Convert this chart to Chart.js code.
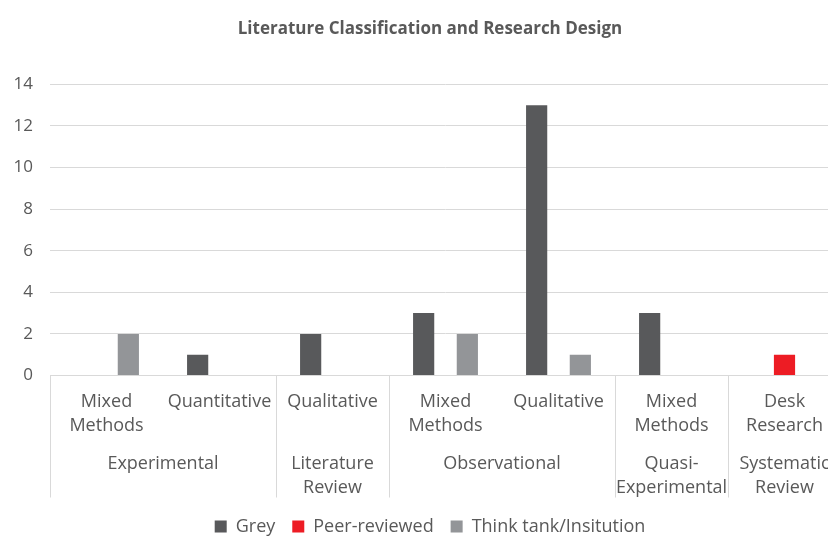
<!DOCTYPE html>
<html><head><meta charset="utf-8">
<script src="https://cdn.jsdelivr.net/npm/chart.js@4/dist/chart.umd.min.js"></script>
<style>
html,body{margin:0;padding:0;overflow:hidden;background:#fff;width:828px;height:537px}
#wrap{position:absolute;left:0;top:0;width:860px;height:537px}
</style>
</head><body><div id="wrap"><canvas id="c" width="860" height="537"></canvas></div>
<script>
const chartTitle = "Literature Classification and Research Design";
const subcategories = [["Mixed","Methods"],"Quantitative","Qualitative",["Mixed","Methods"],"Qualitative",["Mixed","Methods"],["Desk","Research"]];
const groupLabels = [["Experimental"],["Literature","Review"],["Observational"],["Quasi-","Experimental"],["Systematic","Review"]];
const groupSizes = [2,1,2,1,1];
const seriesNames = ["Grey","Peer-reviewed","Think tank/Insitution"];
const greyValues  = [0,1,2,3,13,3,0];
const peerValues  = [0,0,0,0,0,0,1];
const thinkValues = [2,0,0,2,1,0,0];
const yTicks = [0,2,4,6,8,10,12,14];

const TXT = '#595959';
const GRID = '#d9d9d9';
const FONT = "'Open Sans', sans-serif";

const groupPlugin = {
  id: 'groups',
  afterDraw(chart) {
    const x = chart.scales.x;
    const ctx = chart.ctx;
    const top = chart.chartArea.bottom;
    const half = (x.getPixelForValue(1) - x.getPixelForValue(0)) / 2;
    ctx.save();
    ctx.strokeStyle = GRID;
    ctx.lineWidth = 1;
    ctx.fillStyle = TXT;
    ctx.font = "18px " + FONT;
    ctx.textAlign = 'center';
    ctx.textBaseline = 'middle';
    let idx = 0;
    const bounds = [x.getPixelForValue(0) - half];
    groupSizes.forEach((n, g) => {
      const left = x.getPixelForValue(idx) - half;
      const right = x.getPixelForValue(idx + n - 1) + half;
      bounds.push(right);
      const cx = (left + right) / 2;
      groupLabels[g].forEach((line, k) => {
        ctx.fillText(line, cx, top + 88 + k * 24);
      });
      idx += n;
    });
    bounds.forEach(b => {
      const px = Math.round(b) + 0.5;
      ctx.beginPath();
      ctx.moveTo(px, top);
      ctx.lineTo(px, top + 122);
      ctx.stroke();
    });
    ctx.restore();
  }
};

new Chart(document.getElementById('c'), {
  type: 'bar',
  data: {
    labels: subcategories,
    datasets: [
      { label: seriesNames[0], data: greyValues, backgroundColor: '#58595b' },
      { label: seriesNames[1], data: peerValues, backgroundColor: '#ed1c24' },
      { label: seriesNames[2], data: thinkValues, backgroundColor: '#939598' }
    ]
  },
  options: {
    responsive: false,
    animation: false,
    devicePixelRatio: 1,
    layout: { padding: { left: 0, right: 0, top: 0, bottom: -8.5 } },
    datasets: { bar: { barPercentage: 0.97, categoryPercentage: 0.58 } },
    plugins: {
      title: {
        display: true, text: chartTitle, color: TXT,
        font: { family: FONT, size: 17, weight: 'bold' },
        padding: { top: 19, bottom: 45 }
      },
      legend: {
        position: 'bottom',
        labels: {
          color: TXT, boxWidth: 12, boxHeight: 12, padding: 17,
          font: { family: FONT, size: 18 }
        }
      },
      tooltip: { enabled: false }
    },
    scales: {
      x: {
        offset: true,
        grid: { display: false, drawTicks: false },
        border: { display: true, color: GRID, width: 1 },
        ticks: {
          color: TXT, padding: 14, maxRotation: 0, autoSkip: false,
          font: { family: FONT, size: 18, lineHeight: 1.34 }
        },
        afterFit(s) { s.height = 125; }
      },
      y: {
        min: 0, max: 14,
        afterBuildTicks(s) { s.ticks = yTicks.map(v => ({ value: v })); },
        grid: { color: GRID, drawTicks: false, lineWidth: 1 },
        border: { display: false },
        ticks: {
          color: TXT, padding: 17,
          font: { family: FONT, size: 17 }
        },
        afterFit(s) { s.width = 50; }
      },
      yr: {
        position: 'right',
        display: true,
        grid: { display: false },
        border: { display: false },
        ticks: { display: false },
        afterFit(s) { s.width = 19; }
      }
    }
  },
  plugins: [groupPlugin]
});
</script>
</body></html>
